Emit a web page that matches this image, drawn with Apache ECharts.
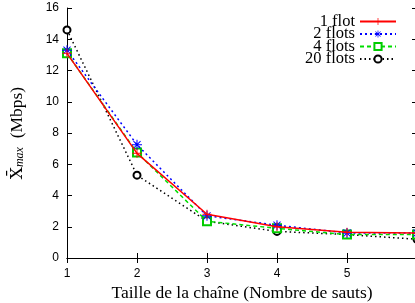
<!DOCTYPE html>
<html>
<head>
<meta charset="utf-8">
<script src="https://cdn.jsdelivr.net/npm/echarts@6/dist/echarts.min.js"></script>
<style>
  html, body { margin: 0; padding: 0; background: #fff; }
  #chart { width: 415px; height: 303px; }
</style>
</head>
<body>
<div id="chart"></div>
<script>
// hop counts (x) and mean max throughput per number of flows
var hops = [1, 2, 3, 4, 5, 6]
var flot1 = [13.1, 6.7, 2.8, 2.0, 1.65, 1.6]
var flots2 = [13.3, 7.25, 2.7, 2.1, 1.6, 1.6]
var flots4 = [13.1, 6.75, 2.35, 1.9, 1.5, 1.5]
var flots20 = [14.6, 5.3, 2.35, 1.7, 1.5, 1.2]
var yTicks = [0, 16, 2]

var serif = 'Liberation Serif'
var sans = 'Liberation Sans'

function pairs(vals) {
  return hops.map(function (h, i) { return [h, vals[i]] })
}

var plusPath = 'path://M0,9L20,9L20,11L0,11Z M9,0L11,0L11,20L9,20Z'
var starPath = 'path://M0,9L20,9L20,11L0,11Z M9,0L11,0L11,20L9,20Z M2.2,3.6L3.6,2.2L17.8,16.4L16.4,17.8Z M16.4,2.2L17.8,3.6L3.6,17.8L2.2,16.4Z'

var chart = echarts.init(document.getElementById('chart'))
chart.setOption({
  animation: false,
  grid: { left: 67, top: 8, bottom: 45, width: 350, outerBoundsMode: 'none', containLabel: false },
  legend: {
    orient: 'vertical',
    right: 13,
    top: 8,
    align: 'right',
    itemWidth: 36,
    itemHeight: 9,
    itemGap: -4.5,
    textStyle: { fontFamily: serif, fontSize: 16.5, color: '#000', padding: [0, 0, 0, 0] },
    data: ['1 flot', '2 flots', '4 flots', '20 flots']
  },
  xAxis: [
    {
      type: 'value',
      min: 1,
      max: 6,
      interval: 1,
      name: 'Taille de la chaîne (Nombre de sauts)',
      nameLocation: 'middle',
      nameGap: 26,
      nameTextStyle: { fontFamily: serif, fontSize: 17.5, color: '#000' },
      axisLine: { lineStyle: { color: '#000', width: 1 } },
      axisTick: { inside: true, length: 5, lineStyle: { color: '#000' } },
      axisLabel: { fontFamily: sans, fontSize: 12, color: '#000', margin: 10, showMaxLabel: false },
      splitLine: { show: false }
    },
    {
      type: 'value',
      position: 'top',
      min: 1,
      max: 6,
      interval: 1,
      axisLine: { lineStyle: { color: '#000', width: 1 } },
      axisTick: { inside: true, length: 5, lineStyle: { color: '#000' } },
      axisLabel: { show: false },
      splitLine: { show: false }
    }
  ],
  yAxis: [
    {
      type: 'value',
      min: yTicks[0],
      max: yTicks[1],
      interval: yTicks[2],
      name: '{x|X\u0304}{sub|max}{u|  (Mbps)}',
      nameLocation: 'middle',
      nameGap: 41,
      nameRotate: 90,
      nameTextStyle: {
        color: '#000',
        fontFamily: serif,
        fontSize: 17,
        rich: {
          x: { fontFamily: 'DejaVu Serif', fontSize: 17, color: '#000', verticalAlign: 'bottom', lineHeight: 22 },
          sub: { fontFamily: serif, fontSize: 12, fontStyle: 'italic', color: '#000', verticalAlign: 'bottom', lineHeight: 16 },
          u: { fontFamily: serif, fontSize: 17.5, color: '#000', verticalAlign: 'bottom', lineHeight: 22 }
        }
      },
      axisLine: { show: true, lineStyle: { color: '#000', width: 1 } },
      axisTick: { show: true, inside: true, length: 5, lineStyle: { color: '#000' } },
      axisLabel: { fontFamily: sans, fontSize: 12, color: '#000', margin: 8 },
      splitLine: { show: false }
    },
    {
      type: 'value',
      position: 'right',
      min: yTicks[0],
      max: yTicks[1],
      interval: yTicks[2],
      axisLine: { show: true, lineStyle: { color: '#000', width: 1 } },
      axisTick: { show: true, inside: true, length: 5, lineStyle: { color: '#000' } },
      axisLabel: { show: false },
      splitLine: { show: false }
    }
  ],
  series: [
    {
      name: '1 flot',
      type: 'line',
      data: pairs(flot1),
      symbol: plusPath,
      symbolSize: 9,
      itemStyle: { color: '#ff0000' },
      lineStyle: { color: '#ff0000', width: 1.5, type: 'solid' },
      z: 4
    },
    {
      name: '2 flots',
      type: 'line',
      data: pairs(flots2),
      symbol: starPath,
      symbolSize: 10,
      itemStyle: { color: '#0000ff' },
      lineStyle: { color: '#0000ff', width: 1.5, type: [2, 3] },
      z: 3
    },
    {
      name: '4 flots',
      type: 'line',
      data: pairs(flots4),
      symbol: 'emptyRect',
      symbolSize: 8,
      itemStyle: { color: '#00cc00', borderWidth: 1.2 },
      lineStyle: { color: '#00dd00', width: 1.5, type: [4, 3] },
      z: 2
    },
    {
      name: '20 flots',
      type: 'line',
      data: pairs(flots20),
      symbol: 'emptyCircle',
      symbolSize: 7,
      itemStyle: { color: '#000', borderWidth: 1.2 },
      lineStyle: { color: '#000', width: 1.5, type: [1.5, 3] },
      z: 1
    }
  ]
})
</script>
</body>
</html>
